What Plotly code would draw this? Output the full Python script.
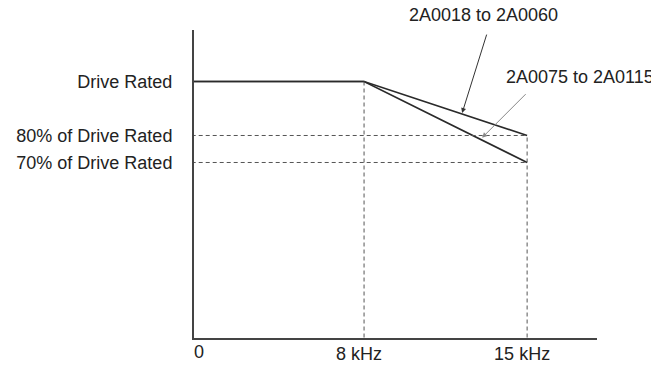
import plotly.graph_objects as go

# Data (carrier frequency in kHz vs. output current in % of drive rated)
freq_khz = [0, 8, 15]
current_small = [100, 100, 80]   # 2A0018 to 2A0060
current_large = [100, 100, 70]   # 2A0075 to 2A0115
series_names = ["2A0018 to 2A0060", "2A0075 to 2A0115"]
x_tick_vals = [8, 15]
x_tick_text = ["8 kHz", "15 kHz"]
y_tick_vals = [100, 80, 70]
y_tick_text = ["Drive Rated", "80% of Drive Rated", "70% of Drive Rated"]

FONT = "Liberation Sans, Arial, sans-serif"
TXT = "#222222"
FS = 18

fig = go.Figure()

# dashed guide lines derived from data
guide = dict(color="#555555", width=1, dash="4px,3px")
fig.add_shape(type="line", xref="x", yref="y", x0=freq_khz[1], x1=freq_khz[1],
              y0=0, y1=current_small[1], line=guide)
fig.add_shape(type="line", xref="x", yref="y", x0=freq_khz[2], x1=freq_khz[2],
              y0=0, y1=current_small[2], line=guide)
fig.add_shape(type="line", xref="x", yref="y", x0=0, x1=freq_khz[2],
              y0=current_small[2], y1=current_small[2], line=guide)
fig.add_shape(type="line", xref="x", yref="y", x0=0, x1=freq_khz[2],
              y0=current_large[2], y1=current_large[2], line=guide)

for yv, name in zip([current_small, current_large], series_names):
    fig.add_trace(go.Scatter(x=freq_khz, y=yv, mode="lines", name=name,
                             line=dict(color="#2a2a2a", width=1.6),
                             showlegend=False, hoverinfo="skip"))

# labels with leader arrows
fig.add_annotation(x=0.7196, y=1.0487, xref="paper", yref="paper", text=series_names[0],
                   xanchor="center", yanchor="middle",
                   showarrow=False, font=dict(family=FONT, size=FS, color=TXT))
fig.add_annotation(x=0.958, y=0.847, xref="paper", yref="paper", text=series_names[1],
                   xanchor="center", yanchor="middle",
                   showarrow=False, font=dict(family=FONT, size=FS, color=TXT))
fig.add_annotation(x=12.21, y=88.3, xref="x", yref="y", text="", showarrow=True,
                   ax=25, ay=-80, arrowhead=2, arrowsize=1, arrowwidth=1,
                   arrowcolor="#333333")
fig.add_annotation(x=13.07, y=79.2, xref="x", yref="y", text="", showarrow=True,
                   ax=45, ay=-45, arrowhead=2, arrowsize=1, arrowwidth=1,
                   arrowcolor="#888888")
# origin label
fig.add_annotation(x=0, y=0, xref="paper", yref="paper", text="0",
                   showarrow=False, xanchor="center", yanchor="top",
                   xshift=5, yshift=-2, font=dict(family=FONT, size=FS, color=TXT))

fig.update_xaxes(range=[0.70, 18.0], showgrid=False, zeroline=False,
                 showline=True, linecolor="#444444", linewidth=2,
                 tickvals=x_tick_vals, ticktext=x_tick_text, ticks="",
                 ticklabelshift=-5, ticklabelstandoff=-2, automargin=False,
                 tickfont=dict(family=FONT, size=FS, color=TXT))
fig.update_yaxes(range=[5.0, 119.07], showgrid=False, zeroline=False,
                 showline=True, linecolor="#444444", linewidth=2,
                 tickvals=y_tick_vals, ticktext=y_tick_text, ticks="",
                 ticklabelstandoff=16, automargin=False,
                 tickfont=dict(family=FONT, size=FS, color=TXT))

# margins compensate for the page's 8px body offset
fig.update_layout(width=659, height=365,
                  margin=dict(l=186, r=70, t=22, b=35),
                  paper_bgcolor="white", plot_bgcolor="white",
                  font=dict(family=FONT, size=FS, color=TXT))

fig.write_html("out.html")
